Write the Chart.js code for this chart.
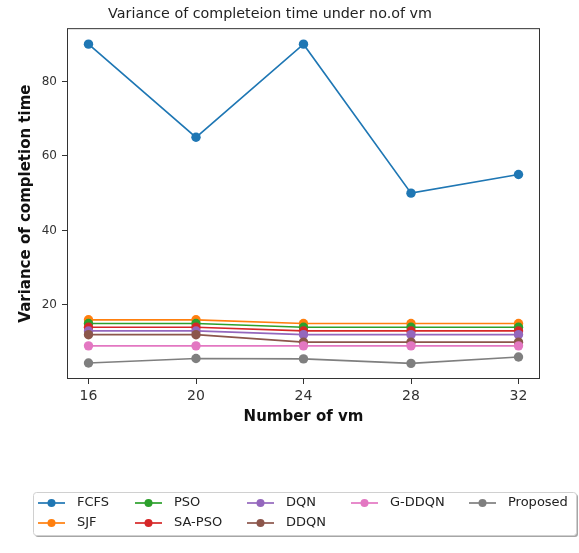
<!DOCTYPE html>
<html>
<head>
<meta charset="utf-8">
<script src="https://cdn.jsdelivr.net/npm/chart.js@4"></script>
<style>
  body { margin: 0; background: #fff; }
  #wrap { width: 579px; height: 553px; }
</style>
</head>
<body>
<div id="wrap"><canvas id="myChart" width="579" height="553"></canvas></div>
<script>
// data
const vms = [16, 20, 24, 28, 32];
const fcfs = [90, 65, 90, 50, 55];
const sjf = [16, 16, 15, 15, 15];
const pso = [15, 15, 14, 14, 14];
const saPso = [14, 14, 13, 13, 13];
const dqn = [13, 13, 12, 12, 12];
const ddqn = [12, 12, 10, 10, 10];
const gDdqn = [9, 9, 9, 9, 9];
const proposed = [4.4, 5.6, 5.5, 4.3, 6];
const yTicks = [20, 40, 60, 80];

const names = ['FCFS', 'SJF', 'PSO', 'SA-PSO', 'DQN', 'DDQN', 'G-DDQN', 'Proposed'];
const series = [fcfs, sjf, pso, saPso, dqn, ddqn, gDdqn, proposed];
const colors = ['#1f77b4', '#ff7f0e', '#2ca02c', '#d62728', '#9467bd', '#8c564b', '#e377c2', '#7f7f7f'];

Chart.defaults.font.family = "'DejaVu Sans', sans-serif";
Chart.defaults.color = '#333';

let datasets = series.map(function (vals, i) {
    return {
        label: names[i],
        data: vals.map(function (v, j) { return { x: vms[j], y: v }; }),
        borderColor: colors[i],
        backgroundColor: colors[i],
        borderWidth: 1.7,
        pointRadius: 4.7,
        pointHoverRadius: 4.7,
        pointBorderWidth: 0,
        order: names.length - i  // later series on top, like matplotlib
    };
});

// legend: 5 columns, filled column by column (first columns get 2 rows)
const legendCols = [38, 135, 247, 351, 469];
const legendRows = [503, 523];

function legendSlot(i, n, ncol) {
    let base = Math.floor(n / ncol), extra = n % ncol;
    let col = 0, start = 0;
    while (true) {
        let size = base + (col < extra ? 1 : 0);
        if (i < start + size) return { col: col, row: i - start };
        start += size;
        col++;
    }
}

const framePlugin = {
    id: 'frame',
    afterDatasetsDraw(chart) {
        const ctx = chart.ctx;
        const a = chart.chartArea;
        ctx.save();
        ctx.strokeStyle = '#333';
        ctx.lineWidth = 1;
        ctx.strokeRect(a.left + 0.5, a.top + 0.5, a.right - a.left - 1, a.bottom - a.top - 1);
        ctx.restore();
    },
    afterDraw(chart) {
        const ctx = chart.ctx;
        const dsList = chart.data.datasets;
        ctx.save();
        // shadow + box
        ctx.fillStyle = 'rgba(0,0,0,0.35)';
        ctx.beginPath();
        ctx.roundRect(35, 494, 543, 43, 3);
        ctx.fill();
        ctx.fillStyle = '#fff';
        ctx.strokeStyle = '#d0d0d0';
        ctx.lineWidth = 1;
        ctx.beginPath();
        ctx.roundRect(33.5, 492.5, 543, 43, 3);
        ctx.fill();
        ctx.stroke();

        ctx.font = "13px 'DejaVu Sans'";
        ctx.textBaseline = 'middle';
        dsList.forEach(function (ds, i) {
            let slot = legendSlot(i, dsList.length, legendCols.length);
            let x = legendCols[slot.col];
            let y = legendRows[slot.row];
            ctx.strokeStyle = ds.borderColor;
            ctx.lineWidth = 1.7;
            ctx.beginPath();
            ctx.moveTo(x, y);
            ctx.lineTo(x + 27, y);
            ctx.stroke();
            ctx.fillStyle = ds.borderColor;
            ctx.beginPath();
            ctx.arc(x + 13.5, y, 4, 0, Math.PI * 2);
            ctx.fill();
            ctx.fillStyle = '#222';
            ctx.fillText(ds.label, x + 39, y);
        });
        ctx.restore();
    }
};

let ctx = document.getElementById('myChart').getContext('2d');
let chart = new Chart(ctx, {
    type: 'line',
    data: { datasets: datasets },
    plugins: [framePlugin],
    options: {
        responsive: false,
        animation: false,
        devicePixelRatio: 1,
        layout: { padding: { top: 0, left: 0, right: 39, bottom: 127 } },
        plugins: {
            legend: { display: false },
            tooltip: { enabled: false },
            title: {
                display: true,
                text: 'Variance of completeion time under no.of vm',
                font: { size: 14.3, weight: 'normal' },
                color: '#222',
                padding: { top: 6, bottom: 5 }
            }
        },
        scales: {
            x: {
                type: 'linear',
                min: 15.2,
                max: 32.8,
                afterBuildTicks: function (s) { s.ticks = vms.map(function (v) { return { value: v }; }); },
                afterFit: function (s) { s.height = 47; },
                grid: { display: true, drawOnChartArea: false, tickLength: 5, color: '#333' },
                border: { display: false },
                ticks: { font: { size: 14 }, padding: 4, color: '#333', maxRotation: 0 },
                title: {
                    display: true,
                    text: 'Number of vm',
                    font: { size: 15, weight: 'bold' },
                    color: '#111',
                    padding: { top: 0, bottom: 0 }
                }
            },
            y: {
                min: 0.1,
                max: 94.3,
                afterBuildTicks: function (s) { s.ticks = yTicks.map(function (v) { return { value: v }; }); },
                afterFit: function (s) { s.width = 67; },
                grid: { display: true, drawOnChartArea: false, tickLength: 5, color: '#333' },
                border: { display: false },
                ticks: { font: { size: 12 }, padding: 5, color: '#333' },
                title: {
                    display: true,
                    text: 'Variance of completion time',
                    font: { size: 15, weight: 'bold' },
                    color: '#111',
                    padding: { top: 17, bottom: 0 }
                }
            }
        }
    }
});
</script>
</body>
</html>
